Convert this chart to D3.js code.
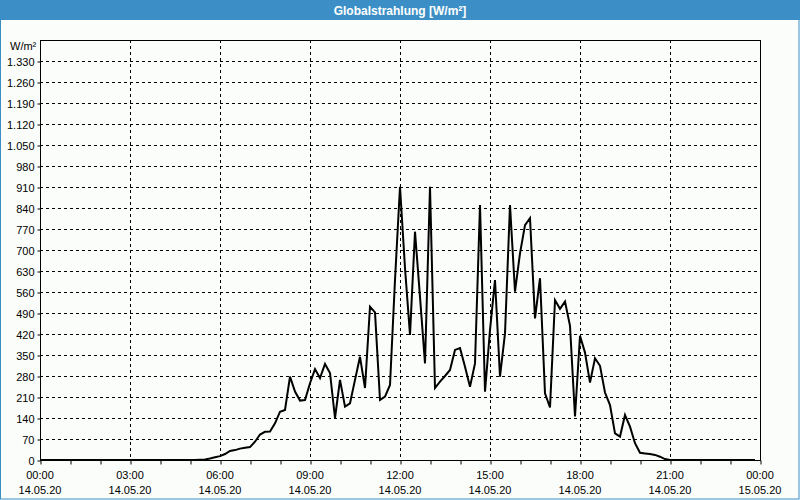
<!DOCTYPE html>
<html><head><meta charset="utf-8">
<script src="https://cdn.jsdelivr.net/npm/d3@7"></script>
<style>
html,body{margin:0;padding:0;background:#fbfdfb;}
svg{display:block;font-family:"Liberation Sans",Arial,sans-serif;}
</style></head>
<body>
<svg id="chart" width="800" height="500"></svg>
<script>
const title = "Globalstrahlung [W/m²]";
const unitLabel = "W/m²";
// 10-minute values from 00:00 to 23:50 on 14.05.20
const radiation = [
0,0,0,0,0,0,0,0,0,0,0,0,0,0,0,0,0,0,0,0,0,0,0,0,0,0,0,0,0,0,0,0,
1,2,5,9,13,20,30,33,38,41,43,61,85,94,95,122,161,167,278,228,198,200,256,303,273,320,290,140,267,178,189,267,
344,240,511,492,200,211,250,600,911,640,417,761,544,322,911,240,261,280,300,367,373,311,244,322,850,228,433,600,278,422,
850,561,689,783,806,472,606,222,175,533,504,528,447,145,414,358,258,339,314,225,183,89,78,150,111,56,24,22,20,17,11,3,
0,0,0,0,0,0,0,0,0,0,0,0,0,0,0,0,0,0
];
const yTicks = [0,70,140,210,280,350,420,490,560,630,700,770,840,910,980,1050,1120,1190,1260,1330];
const xTickTimes = ["00:00","03:00","06:00","09:00","12:00","15:00","18:00","21:00","00:00"];
const xTickDates = ["14.05.20","14.05.20","14.05.20","14.05.20","14.05.20","14.05.20","14.05.20","14.05.20","15.05.20"];

const svg = d3.select("#chart");
const W = 800, H = 500;
const m = {left:40, right:40, top:40, bottom:40};
const pw = W - m.left - m.right, ph = H - m.top - m.bottom;

// title bar
svg.append("rect").attr("x",0).attr("y",0).attr("width",W).attr("height",20).attr("fill","#3c8fc6");
svg.append("text").attr("x",W/2).attr("y",14.5).attr("text-anchor","middle")
  .attr("fill","#ffffff").attr("font-size",12).attr("font-weight","bold").text(title);
// window border
svg.append("rect").attr("x",0.5).attr("y",0.5).attr("width",W-1.5).attr("height",H-1.5)
  .attr("fill","none").attr("stroke","#3c8fc6").attr("stroke-width",1);

const x = d3.scaleLinear().domain([0,144]).range([m.left, m.left+pw]);
const y = d3.scaleLinear().domain([0,1400]).range([m.top+ph, m.top]);
const fmt = d3.formatLocale({decimal:",", thousands:".", grouping:[3], currency:["","€"]}).format(",d");

const g = svg.append("g");
// horizontal grid
g.selectAll(".hg").data(yTicks.filter(d=>d>0)).enter().append("line")
  .attr("x1",m.left).attr("x2",m.left+pw)
  .attr("y1",d=>Math.round(y(d))+0.5).attr("y2",d=>Math.round(y(d))+0.5)
  .attr("stroke","#000").attr("stroke-dasharray","3,3").attr("stroke-width",1);
// vertical grid every 3h
const majors = d3.range(18,144,18);
g.selectAll(".vg").data(majors).enter().append("line")
  .attr("x1",d=>Math.round(x(d))+0.5).attr("x2",d=>Math.round(x(d))+0.5)
  .attr("y1",m.top).attr("y2",m.top+ph)
  .attr("stroke","#000").attr("stroke-dasharray","3,3").attr("stroke-width",1);

// frame
g.append("rect").attr("x",m.left+0.5).attr("y",m.top+0.5).attr("width",pw).attr("height",ph)
  .attr("fill","none").attr("stroke","#000").attr("stroke-width",1);

// y axis
const yAxis = d3.axisLeft(y).tickValues(yTicks).tickSize(3).tickPadding(3).tickFormat(d=>fmt(d));
const ya = svg.append("g").attr("transform",`translate(${m.left+0.5},0.5)`).call(yAxis);
ya.select(".domain").remove();
ya.selectAll("text").attr("font-size",11).attr("fill","#000").attr("font-family","Liberation Sans, Arial, sans-serif");
ya.selectAll("line").attr("stroke","#000");

svg.append("text").attr("x",10).attr("y",50).attr("font-size",11).attr("fill","#000").text(unitLabel);

// x axis hourly ticks
const xAxis = d3.axisBottom(x).tickValues(d3.range(0,145,6)).tickSize(4).tickFormat("");
const xa = svg.append("g").attr("transform",`translate(0.5,${m.top+ph+0.5})`).call(xAxis);
xa.select(".domain").remove();
xa.selectAll("line").attr("stroke","#000");

const labels = svg.append("g");
xTickTimes.forEach((t,i)=>{
  const px = x(i*18);
  labels.append("text").attr("x",px).attr("y",479).attr("text-anchor","middle").attr("font-size",11).attr("fill","#000").text(t);
  labels.append("text").attr("x",px).attr("y",494).attr("text-anchor","middle").attr("font-size",11).attr("fill","#000").text(xTickDates[i]);
});

// data line
const line = d3.line().x((d,i)=>x(i)).y(d=>y(d));
svg.append("path").datum(radiation).attr("d",line)
  .attr("fill","none").attr("stroke","#000").attr("stroke-width",2).attr("stroke-linejoin","miter");
</script>
</body></html>
